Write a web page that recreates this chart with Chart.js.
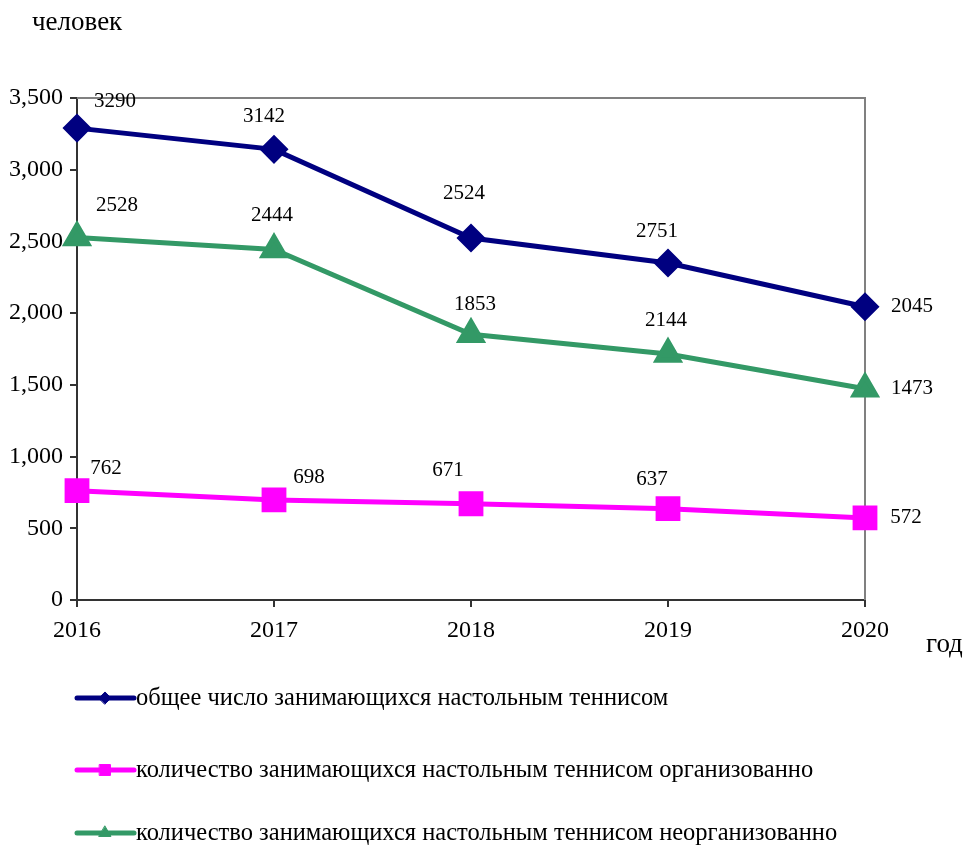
<!DOCTYPE html>
<html>
<head>
<meta charset="utf-8">
<script src="https://cdn.jsdelivr.net/npm/chart.js@4.4.1/dist/chart.umd.min.js"></script>
<style>
  html, body { margin: 0; padding: 0; background: #fff; }
  #wrap { width: 968px; height: 847px; }
</style>
</head>
<body>
<div id="wrap"><canvas id="chart" width="968" height="847"></canvas></div>
<script>
// --- data ---
const years = ['2016', '2017', '2018', '2019', '2020'];

const totalValues = [3290, 3142, 2524, 2350, 2045];
const organizedValues = [762, 698, 671, 637, 572];
const unorganizedValues = [2528, 2444, 1853, 1715, 1473];

// label texts as printed next to the points
const totalLabels = ['3290', '3142', '2524', '2751', '2045'];
const organizedLabels = ['762', '698', '671', '637', '572'];
const unorganizedLabels = ['2528', '2444', '1853', '2144', '1473'];

const seriesNames = [
    'общее число занимающихся настольным теннисом',
    'количество занимающихся настольным теннисом организованно',
    'количество занимающихся настольным теннисом неорганизованно'
];

const yTicks = [0, 500, 1000, 1500, 2000, 2500, 3000, 3500];

// label offsets (px from the point), layout only
const labelOffsets = [
    [[38, -27], [-10, -33], [-7, -45], [-11, -31], [47, 0]],
    [[29, -22], [35, -22], [-23, -33], [-16, -29], [41, 0]],
    [[40, -32], [-2, -34], [4, -30], [-2, -34], [47, 0]]
];
const labelTexts = [totalLabels, organizedLabels, unorganizedLabels];

const FONT = '"Liberation Serif", "Times New Roman", serif';

// top and right frame of the plot area
const frameBox = {
    id: 'frameBox',
    beforeDatasetsDraw(chart) {
        const { ctx, chartArea: a } = chart;
        ctx.save();
        ctx.strokeStyle = '#808080';
        ctx.lineWidth = 2;
        ctx.beginPath();
        ctx.moveTo(a.left, a.top);
        ctx.lineTo(a.right, a.top);
        ctx.lineTo(a.right, a.bottom);
        ctx.stroke();
        ctx.restore();
    }
};

// value labels next to each point
const pointLabels = {
    id: 'pointLabels',
    afterDatasetsDraw(chart) {
        const ctx = chart.ctx;
        ctx.save();
        ctx.font = '21px ' + FONT;
        ctx.fillStyle = '#000';
        ctx.textAlign = 'center';
        ctx.textBaseline = 'middle';
        chart.data.datasets.forEach((ds, i) => {
            const meta = chart.getDatasetMeta(i);
            meta.data.forEach((pt, j) => {
                const off = labelOffsets[i][j];
                ctx.fillText(labelTexts[i][j], pt.x + off[0], pt.y + off[1]);
            });
        });
        ctx.restore();
    }
};

// axis captions + legend drawn as in the original
const extras = {
    id: 'extras',
    afterDraw(chart) {
        const ctx = chart.ctx;
        ctx.save();
        ctx.fillStyle = '#000';
        ctx.textBaseline = 'middle';
        ctx.textAlign = 'left';
        ctx.font = '27px ' + FONT;
        ctx.fillText('человек', 32, 23);
        ctx.fillText('год', 926, 645);

        const rows = [698, 770, 833];
        chart.data.datasets.forEach((ds, i) => {
            const y = rows[i];
            ctx.strokeStyle = ds.borderColor;
            ctx.lineWidth = 5;
            ctx.lineCap = 'round';
            ctx.beginPath();
            ctx.moveTo(77, y);
            ctx.lineTo(134, y);
            ctx.stroke();
            ctx.fillStyle = ds.pointBackgroundColor;
            ctx.strokeStyle = ds.pointBackgroundColor;
            ctx.lineWidth = 1;
            Chart.helpers.drawPoint(ctx, {
                pointStyle: ds.pointStyle,
                radius: ds.pointRadius * 0.55,
                rotation: 0,
                borderWidth: 1
            }, 105, y);
            ctx.fillStyle = '#000';
            ctx.font = '24.5px ' + FONT;
            ctx.fillText(seriesNames[i], 136, y + 1);
        });
        ctx.restore();
    }
};

function lineSet(label, data, color, style, radius) {
    return {
        label: label,
        data: data,
        borderColor: color,
        backgroundColor: color,
        pointBackgroundColor: color,
        pointBorderColor: color,
        borderWidth: 5,
        pointStyle: style,
        pointRadius: radius,
        pointHoverRadius: radius,
        tension: 0,
        fill: false
    };
}

new Chart(document.getElementById('chart'), {
    type: 'line',
    data: {
        labels: years,
        datasets: [
            lineSet(seriesNames[0], totalValues, '#000080', 'rectRot', 11),
            lineSet(seriesNames[1], organizedValues, '#FF00FF', 'rect', 14),
            lineSet(seriesNames[2], unorganizedValues, '#339966', 'triangle', 12.5)
        ]
    },
    options: {
        responsive: false,
        animation: false,
        layout: { padding: { top: 98, right: 103, bottom: 207, left: 0 } },
        scales: {
            x: {
                offset: false,
                afterFit(scale) { scale.height = 40; },
                grid: { display: true, drawOnChartArea: false, drawTicks: true, tickLength: 7, color: '#333', lineWidth: 2 },
                border: { display: true, color: '#333', width: 2 },
                ticks: { color: '#000', font: { family: FONT, size: 24 }, padding: 9, maxRotation: 0 }
            },
            y: {
                min: 0,
                max: 3500,
                afterFit(scale) { scale.width = 77; },
                afterBuildTicks(scale) { scale.ticks = yTicks.map(v => ({ value: v })); },
                grid: { display: true, drawOnChartArea: false, drawTicks: true, tickLength: 7, color: '#333', lineWidth: 2 },
                border: { display: true, color: '#333', width: 2 },
                ticks: {
                    color: '#000',
                    font: { family: FONT, size: 24 },
                    padding: 7,
                    callback: v => v.toLocaleString('en-US')
                }
            }
        },
        plugins: {
            legend: { display: false },
            tooltip: { enabled: false }
        }
    },
    plugins: [frameBox, pointLabels, extras]
});
</script>
</body>
</html>
